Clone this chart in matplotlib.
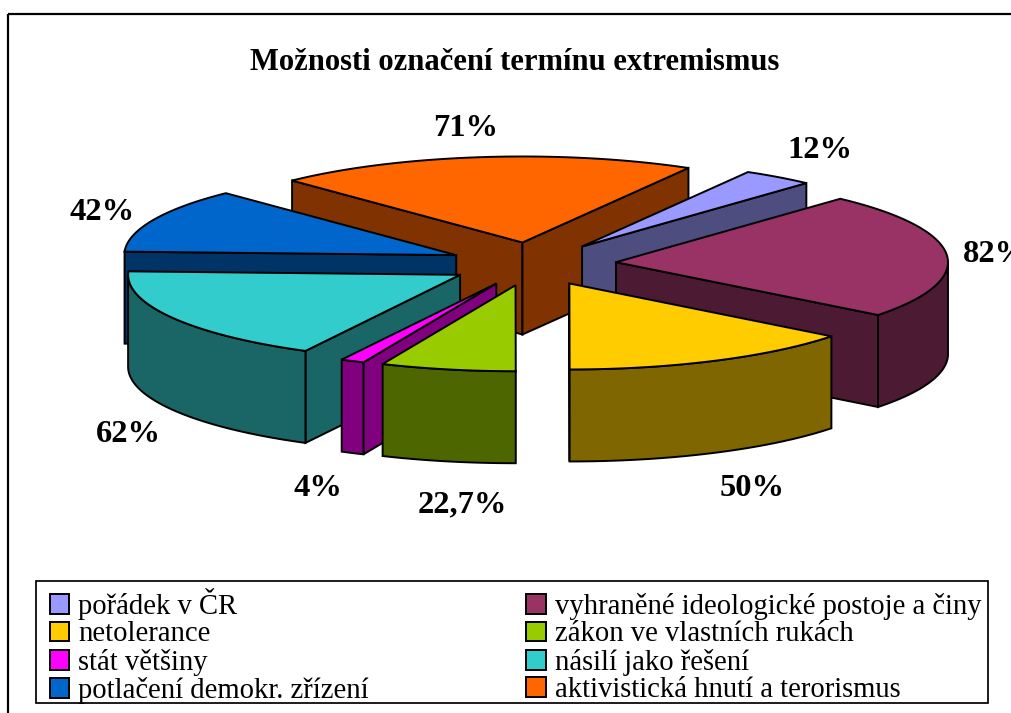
import numpy as np
import matplotlib
matplotlib.use("Agg")
import matplotlib.pyplot as plt
from matplotlib.patches import Polygon, Patch, Rectangle

plt.rcParams['font.family'] = ['Liberation Serif', 'DejaVu Serif']

title = "Možnosti označení termínu extremismus"
categories = ["pořádek v ČR", "vyhraněné ideologické postoje a činy", "netolerance",
              "zákon ve vlastních rukách", "stát většiny", "násilí jako řešení",
              "potlačení demokr. zřízení", "aktivistická hnutí a terorismus"]
values = [12, 82, 50, 22.7, 4, 62, 42, 71]
value_labels = ["12%", "82%", "50%", "22,7%", "4%", "62%", "42%", "71%"]

top_colors = ["#9999FF", "#993366", "#FFCC00", "#99CC00", "#FF00FF", "#33CCCC", "#0066CC", "#FF6600"]
side_colors = ["#4D4D80", "#4D1A33", "#806600", "#4D6600", "#800080", "#1A6666", "#003366", "#803300"]
label_xy = [(820, 150), (995, 254), (752, 488), (462, 505), (318, 488), (128, 434), (102, 212), (466, 128)]
draw_order = [7, 0, 1, 6, 5, 4, 3, 2]

# pie geometry, in picture pixels
cx, cy = 532.6, 264
rx, ry = 332, 86
depth = 92
explode = 0.252
start_angle = 30

fig = plt.figure(figsize=(10.11, 7.13), dpi=100)
ax = fig.add_axes([0, 0, 1, 1])
ax.set_xlim(0, 1011)
ax.set_ylim(713, 0)
ax.axis("off")

ax.add_patch(Rectangle((8, 14), 1100, 800, fill=False, ec="black", lw=1.6))

sweeps = np.array(values) / sum(values) * 360
starts = start_angle + np.concatenate(([0], np.cumsum(sweeps)[:-1]))


def rim(tip, angles):
    t = np.radians(angles)
    return np.column_stack((tip[0] + rx * np.sin(t), tip[1] - ry * np.cos(t)))


def shape(pts, color, z):
    ax.add_patch(Polygon(pts, closed=True, fc=color, ec="black", lw=1.4, joinstyle="miter", zorder=z))


z = 2
for i in draw_order:
    a0 = starts[i]
    a1 = a0 + sweeps[i]
    mid = np.radians((a0 + a1) / 2)
    tip = np.array([cx + explode * rx * np.sin(mid), cy - explode * ry * np.cos(mid)])
    drop = np.array([0, depth])

    # inner walls, only those turned towards the viewer
    for a, visible in ((a0, np.sin(np.radians(a0)) < 0), (a1, np.sin(np.radians(a1)) > 0)):
        if visible:
            edge = rim(tip, [a])[0]
            shape([tip, edge, edge + drop, tip + drop], side_colors[i], z)
    # outer side, the front half of the rim
    for lo, hi in ((90, 270), (450, 630)):
        s0, s1 = max(a0, lo), min(a1, hi)
        if s1 > s0:
            arc = rim(tip, np.linspace(s0, s1, 80))
            shape(np.vstack((arc, (arc + drop)[::-1])), side_colors[i], z)
    # top face
    arc = rim(tip, np.linspace(a0, a1, 120))
    shape(np.vstack(([tip], arc)), top_colors[i], z)
    z += 1

for (x, y), lab in zip(label_xy, value_labels):
    ax.text(x, y, lab, ha="center", va="center", fontsize=23.4, fontweight="bold", zorder=20)

ax.text(515, 63, title, ha="center", va="center", fontsize=22.1, fontweight="bold", zorder=20)

# legend box is drawn on its own, the picture pads it unevenly
ax.add_patch(Rectangle((36, 581), 951.5, 122, fc="white", ec="black", lw=1.25, zorder=25))

# legend reads row by row in the picture, matplotlib fills columns
order = [0, 2, 4, 6, 1, 3, 5, 7]
handles = [Patch(fc=top_colors[i], ec="black", lw=1.4, label=categories[i]) for i in order]
leg = ax.legend(handles=handles, ncol=2, loc="upper left", bbox_to_anchor=(50, 588),
                bbox_transform=ax.transData, fontsize=20.6, frameon=False,
                borderaxespad=0, borderpad=0, labelspacing=0.05,
                handlelength=0.68, handleheight=0.68, handletextpad=0.31,
                columnspacing=5.5)
leg.set_zorder(30)

fig.savefig("out.png", dpi=100)
